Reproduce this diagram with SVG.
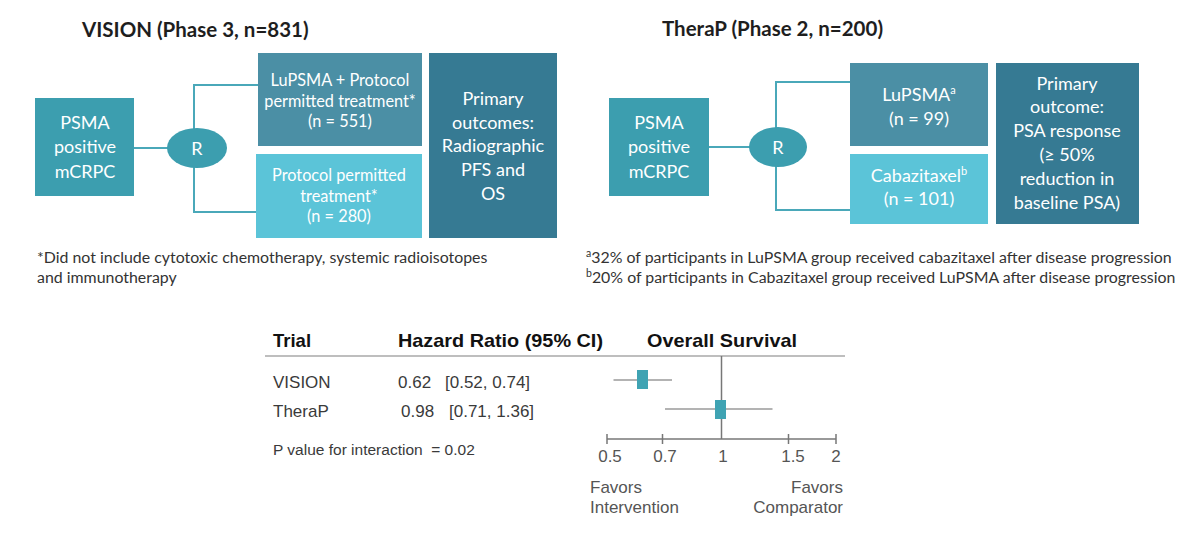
<svg xmlns="http://www.w3.org/2000/svg" width="1200" height="533" viewBox="0 0 1200 533">
<style>
  .title{font-family:Lato,"Open Sans",sans-serif;font-weight:bold;font-size:20.5px;fill:#1e1e1e}
  .bt{font-family:Lato,"Open Sans",sans-serif;font-size:18px;fill:#ffffff;text-anchor:middle}
  .bs{font-family:Lato,"Open Sans",sans-serif;font-size:16.3px;fill:#ffffff;text-anchor:middle}
  .fn{font-family:Lato,"Open Sans",sans-serif;font-size:15.9px;fill:#333333}
  .c-psma{fill:#3c9eaf}
  .c-lu{fill:#4b8fa5}
  .c-light{fill:#5bc4d8}
  .c-out{fill:#367a93}
  .conn{stroke:#4aa8b9;stroke-width:2;fill:none}
  .fh{font-family:"Liberation Sans",Arial,sans-serif;font-weight:bold;font-size:18.5px;fill:#111111}
  .fr{font-family:"Liberation Sans",Arial,sans-serif;font-size:17px;fill:#3a3a3a}
  .fp{font-family:"Liberation Sans",Arial,sans-serif;font-size:15.5px;fill:#3a3a3a}
  .ax{font-family:"Liberation Sans",Arial,sans-serif;font-size:17px;fill:#555555}
  .ci{stroke:#9a9a9a;stroke-width:1.5;fill:none}
  .axl{stroke:#777777;stroke-width:1.5;fill:none}
  .mk{fill:#3fa3b3}
</style>
<rect width="1200" height="533" fill="#ffffff"/>

<!-- Titles -->
<text id="title-vision" class="title" x="82" y="37">VISION (Phase 3, n=831)</text>
<text id="title-therap" class="title" x="662" y="36">TheraP (Phase 2, n=200)</text>

<!-- Connectors -->
<g id="connectors">
  <line class="conn" x1="134" y1="148" x2="168" y2="148"/>
  <polyline class="conn" points="258,85 194,85 194,212 256,212"/>
  <line class="conn" x1="709" y1="147" x2="750" y2="147"/>
  <polyline class="conn" points="850,82 776,82 776,210 850,210"/>
</g>

<!-- VISION nodes -->
<g id="vision-psma">
  <rect class="c-psma" x="35" y="98" width="99" height="98"/>
  <text class="bt" x="85" y="129">PSMA</text>
  <text class="bt" x="85" y="153">positive</text>
  <text class="bt" x="85" y="178">mCRPC</text>
</g>
<g id="vision-r">
  <ellipse class="c-psma" cx="197" cy="148" rx="30" ry="20"/>
  <text class="bt" x="197" y="155">R</text>
</g>
<g id="vision-lupsma">
  <rect class="c-lu" x="258" y="53" width="164" height="93"/>
  <text class="bs" x="340" y="86">LuPSMA + Protocol</text>
  <text class="bs" x="340" y="107">permitted treatment*</text>
  <text class="bs" x="340" y="127">(n = 551)</text>
</g>
<g id="vision-protocol">
  <rect class="c-light" x="256" y="154" width="166" height="84"/>
  <text class="bs" x="339" y="181">Protocol permitted</text>
  <text class="bs" x="339" y="202">treatment*</text>
  <text class="bs" x="339" y="222">(n = 280)</text>
</g>
<g id="vision-outcomes">
  <rect class="c-out" x="429" y="53" width="128" height="185"/>
  <text class="bt" x="493" y="105">Primary</text>
  <text class="bt" x="493" y="129">outcomes:</text>
  <text class="bt" x="493" y="152">Radiographic</text>
  <text class="bt" x="493" y="176">PFS and</text>
  <text class="bt" x="493" y="200">OS</text>
</g>
<g id="vision-footnote">
  <text class="fn" x="37" y="263">*Did not include cytotoxic chemotherapy, systemic radioisotopes</text>
  <text class="fn" x="37" y="283">and immunotherapy</text>
</g>

<!-- TheraP nodes -->
<g id="therap-psma">
  <rect class="c-psma" x="609" y="98" width="100" height="98"/>
  <text class="bt" x="659" y="129">PSMA</text>
  <text class="bt" x="659" y="153">positive</text>
  <text class="bt" x="659" y="178">mCRPC</text>
</g>
<g id="therap-r">
  <ellipse class="c-psma" cx="778" cy="147" rx="29" ry="20"/>
  <text class="bt" x="778" y="154">R</text>
</g>
<g id="therap-lupsma">
  <rect class="c-lu" x="850" y="63" width="138" height="83"/>
  <text class="bt" x="919" y="101">LuPSMA<tspan font-size="11" dy="-7">a</tspan></text>
  <text class="bt" x="919" y="125">(n = 99)</text>
</g>
<g id="therap-cabazitaxel">
  <rect class="c-light" x="850" y="154" width="138" height="70"/>
  <text class="bt" x="919" y="182">Cabazitaxel<tspan font-size="11" dy="-7">b</tspan></text>
  <text class="bt" x="919" y="205">(n = 101)</text>
</g>
<g id="therap-outcome">
  <rect class="c-out" x="996" y="63" width="143" height="161"/>
  <text class="bt" x="1067" y="90">Primary</text>
  <text class="bt" x="1067" y="113">outcome:</text>
  <text class="bt" x="1067" y="137">PSA response</text>
  <text class="bt" x="1067" y="161">(≥ 50%</text>
  <text class="bt" x="1067" y="185">reduction in</text>
  <text class="bt" x="1067" y="209">baseline PSA)</text>
</g>
<g id="therap-footnotes">
  <text class="fn" x="586" y="263"><tspan font-size="10.5" dy="-6">a</tspan><tspan dy="6">32% of participants in LuPSMA group received cabazitaxel after disease progression</tspan></text>
  <text class="fn" x="586" y="283"><tspan font-size="10.5" dy="-6">b</tspan><tspan dy="6">20% of participants in Cabazitaxel group received LuPSMA after disease progression</tspan></text>
</g>

<!-- Forest plot -->
<g id="forest-header">
  <text class="fh" x="273" y="347">Trial</text>
  <text class="fh" x="398" y="347" textLength="205" lengthAdjust="spacingAndGlyphs">Hazard Ratio (95% CI)</text>
  <text class="fh" x="647" y="347" textLength="150" lengthAdjust="spacingAndGlyphs">Overall Survival</text>
  <line x1="265" y1="356" x2="845" y2="356" stroke="#a8a8a8" stroke-width="1.5"/>
</g>
<g id="forest-rows">
  <text class="fr" x="273" y="388">VISION</text>
  <text class="fr" x="398" y="388">0.62</text>
  <text class="fr" x="445" y="388">[0.52, 0.74]</text>
  <text class="fr" x="273" y="417">TheraP</text>
  <text class="fr" x="401" y="417">0.98</text>
  <text class="fr" x="449" y="417">[0.71, 1.36]</text>
  <text class="fp" x="273" y="455" xml:space="preserve">P value for interaction  = 0.02</text>
</g>
<g id="forest-plot">
  <line class="axl" x1="721.5" y1="356" x2="721.5" y2="439"/>
  <line class="ci" x1="613.5" y1="380" x2="672" y2="380"/>
  <rect class="mk" x="637" y="370" width="11" height="19"/>
  <line class="ci" x1="665" y1="409" x2="772.5" y2="409"/>
  <rect class="mk" x="715" y="400" width="11" height="19"/>
  <line class="axl" x1="607" y1="439" x2="836" y2="439"/>
  <line class="axl" x1="607" y1="434" x2="607" y2="444"/>
  <line class="axl" x1="662.5" y1="434" x2="662.5" y2="444"/>
  <line class="axl" x1="788.5" y1="434" x2="788.5" y2="444"/>
  <line class="axl" x1="836" y1="434" x2="836" y2="444"/>
  <text class="ax" x="610" y="462" text-anchor="middle">0.5</text>
  <text class="ax" x="665" y="462" text-anchor="middle">0.7</text>
  <text class="ax" x="723" y="462" text-anchor="middle">1</text>
  <text class="ax" x="793" y="462" text-anchor="middle">1.5</text>
  <text class="ax" x="836" y="462" text-anchor="middle">2</text>
  <text class="ax" x="590" y="493">Favors</text>
  <text class="ax" x="590" y="513">Intervention</text>
  <text class="ax" x="843" y="493" text-anchor="end">Favors</text>
  <text class="ax" x="843" y="513" text-anchor="end">Comparator</text>
</g>
</svg>
